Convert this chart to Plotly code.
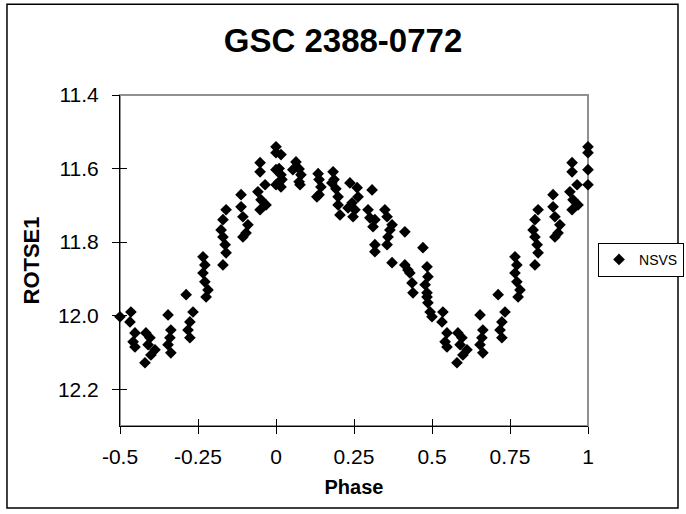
import plotly.graph_objects as go

# Light curve of GSC 2388-0772 (NSVS / ROTSE1), phase-folded
phase = [
    0.010, 0.016, 0.010, 0.016, 0.016, 0.019,
    0.064, 0.074, 0.080, 0.074, 0.054, 0.077,
    0.135, 0.138, 0.144, 0.138, 0.131,
    0.183, 0.186, 0.192, 0.199, 0.179, 0.205, 0.199,
    0.237, 0.260, 0.244, 0.247, 0.263, 0.231, 0.253,
    0.308, 0.295, 0.317, 0.311, 0.301,
    0.349, 0.356, 0.372, 0.359, 0.356, 0.365,
    0.317, 0.317,
    0.413, 0.372, 0.471,
    0.413, 0.429, 0.436, 0.439, 0.423,
    0.484, 0.487, 0.478, 0.484, 0.484, 0.487, 0.494, 0.500,
    0.535, 0.532, 0.548, 0.542, 0.548,
    0.583, 0.590, 0.580, 0.596, 0.612, 0.599,
    0.654, 0.663, 0.660, 0.654, 0.663,
    0.712, 0.734, 0.724, 0.718, 0.724,
    0.766, 0.772, 0.766, 0.772, 0.782, 0.776,
    0.830, 0.824, 0.830, 0.837, 0.840, 0.830, 0.840,
    0.888, 0.888, 0.894, 0.910, 0.904, 0.894,
    0.949, 0.949, 0.942, 0.952, 0.968, 0.949, 0.965,
    1.000, 1.000, 1.000, 1.000,
]
mag = [
    11.600, 11.617, 11.636, 11.650, 11.562, 11.630,
    11.582, 11.601, 11.617, 11.636, 11.603, 11.644,
    11.614, 11.630, 11.650, 11.671, 11.677,
    11.609, 11.630, 11.655, 11.677, 11.639, 11.726, 11.699,
    11.639, 11.652, 11.693, 11.731, 11.677, 11.707, 11.712,
    11.658, 11.712, 11.739, 11.758, 11.734,
    11.712, 11.731, 11.753, 11.786, 11.807, 11.767,
    11.807, 11.826,
    11.772, 11.856, 11.815,
    11.862, 11.884, 11.911, 11.938, 11.876,
    11.867, 11.894, 11.916, 11.938, 11.949, 11.965, 11.990, 12.003,
    11.990, 12.017, 12.047, 12.071, 12.085,
    12.047, 12.079, 12.128, 12.060, 12.093, 12.107,
    11.998, 12.039, 12.060, 12.079, 12.101,
    11.943, 11.990, 12.017, 12.039, 12.060,
    11.840, 11.862, 11.884, 11.908, 11.930, 11.949,
    11.739, 11.767, 11.786, 11.807, 11.829, 11.862, 11.712,
    11.671, 11.704, 11.731, 11.753, 11.775, 11.786,
    11.584, 11.609, 11.663, 11.685, 11.699, 11.712, 11.644,
    11.541, 11.557, 11.603, 11.644,
]

# the second half of the cycle is repeated one period earlier
x_plot = [p - 1 for p in phase if p >= 0.5] + phase
y_plot = [m for p, m in zip(phase, mag) if p >= 0.5] + mag

x_ticks = [-0.5, -0.25, 0, 0.25, 0.5, 0.75, 1]
x_labels = ["-0.5", "-0.25", "0", "0.25", "0.5", "0.75", "1"]
y_ticks = [11.4, 11.6, 11.8, 12.0, 12.2]
y_labels = ["11.4", "11.6", "11.8", "12.0", "12.2"]

FONT = "Liberation Sans, Arial, sans-serif"

fig = go.Figure()
fig.add_trace(go.Scatter(
    x=x_plot, y=y_plot, mode="markers", name="NSVS",
    marker=dict(symbol="diamond", size=9, color="black", line=dict(width=0)),
    cliponaxis=False,
))
# invisible helper trace for the inner half of the crossing ticks
fig.add_trace(go.Scatter(x=[None], y=[None], xaxis="x2", yaxis="y2",
                         showlegend=False, hoverinfo="skip"))

fig.update_layout(
    width=686, height=514,
    margin=dict(l=120, r=98, t=95, b=88, autoexpand=False),
    paper_bgcolor="white", plot_bgcolor="white",
    font=dict(family=FONT, color="black", size=21),
    title=dict(text="<b>GSC 2388-0772</b>", x=0.5, xanchor="center",
               y=0.922, yanchor="middle", font=dict(size=33, family=FONT)),
    showlegend=True,
    legend=dict(x=1.0214, y=0.502, xanchor="left", yanchor="middle",
                bordercolor="black", borderwidth=1, bgcolor="white",
                font=dict(size=14, family=FONT), itemwidth=30,
                tracegroupgap=0),
    xaxis=dict(range=[-0.5, 1], tickvals=x_ticks, ticktext=x_labels,
               showgrid=False, zeroline=False, showline=True,
               linecolor="black", linewidth=1, ticks="outside", ticklen=7,
               tickcolor="black", tickfont=dict(size=21),
               ticklabelstandoff=5,
               title=dict(text="<b>Phase</b>", font=dict(size=20), standoff=12)),
    yaxis=dict(range=[12.3, 11.4], tickvals=y_ticks, ticktext=y_labels,
               showgrid=False, zeroline=False, showline=True,
               linecolor="black", linewidth=1, ticks="outside", ticklen=7,
               tickcolor="black", tickfont=dict(size=21),
               ticklabelstandoff=9,
               title=dict(text="<b>ROTSE1</b>", font=dict(size=22), standoff=12)),
    xaxis2=dict(overlaying="x", matches="x", side="bottom", tickvals=x_ticks,
                showticklabels=False, ticks="inside", ticklen=7,
                tickcolor="black", showgrid=False, zeroline=False,
                showline=False),
    yaxis2=dict(overlaying="y", matches="y", side="left", tickvals=y_ticks,
                showticklabels=False, ticks="inside", ticklen=7,
                tickcolor="black", showgrid=False, zeroline=False,
                showline=False),
    shapes=[
        # plot-area frame (grey top/right)
        dict(type="rect", xref="paper", yref="paper", x0=0, x1=1, y0=0, y1=1,
             line=dict(color="#909090", width=2), layer="below"),
        # outer chart border
        dict(type="rect", xref="paper", yref="paper",
             x0=-0.2415, x1=1.1923, y0=-0.248, y1=1.274,
             line=dict(color="black", width=1.5), layer="below"),
    ],
)

fig.write_html("out.html",
               config={"displayModeBar": False},
               post_script="document.body.style.margin='0';")
